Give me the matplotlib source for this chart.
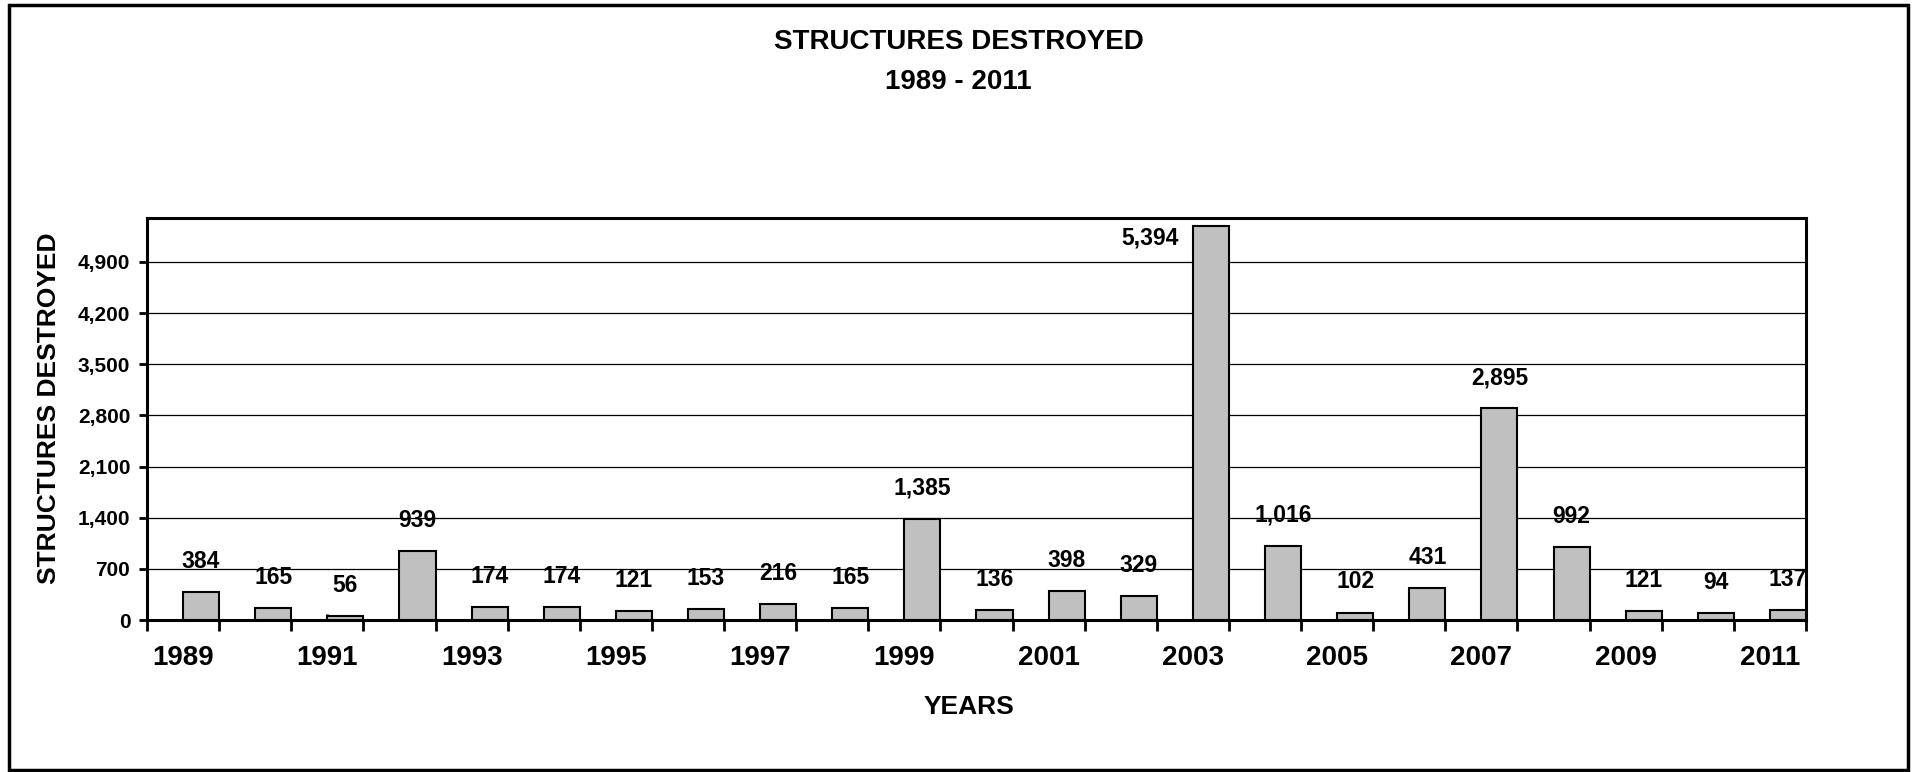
import numpy as np
import matplotlib
matplotlib.use("Agg")
import matplotlib.pyplot as plt
from matplotlib.patches import Rectangle
from matplotlib.ticker import FuncFormatter

plt.rcParams['font.family'] = ['Liberation Sans', 'DejaVu Sans']
plt.rcParams['font.weight'] = 'bold'

years = list(range(1989, 2012))
destroyed = [384, 165, 56, 939, 174, 174, 121, 153, 216, 165, 1385, 136,
             398, 329, 5394, 1016, 102, 431, 2895, 992, 121, 94, 137]
yticks = [0, 700, 1400, 2100, 2800, 3500, 4200, 4900]
ymax = 5500

fig = plt.figure(figsize=(19.17, 7.72), dpi=100)
ax = fig.add_axes([147 / 1917, 152 / 772, 1659 / 1917, 402 / 772])

x = np.arange(len(years))
ax.bar(x, destroyed, width=0.5, align='edge', color='#C0C0C0',
       edgecolor='black', linewidth=1.5, zorder=3)

ax.set_xlim(-0.5, len(years) - 0.5)
ax.set_ylim(0, ymax)
ax.set_yticks(yticks)
ax.yaxis.set_major_formatter(FuncFormatter(lambda v, p: f"{int(v):,}"))
ax.grid(axis='y', color='black', linewidth=0.9, zorder=0)

# boundaries as major ticks, centres as minor ticks carrying the labels
ax.set_xticks(np.arange(len(years) + 1) - 0.5)
ax.set_xticklabels([])
ax.set_xticks(x, minor=True)
ax.set_xticklabels([str(y) if i % 2 == 0 else '' for i, y in enumerate(years)],
                   minor=True)
ax.tick_params(axis='x', which='major', direction='out', length=8, width=2)
ax.tick_params(axis='x', which='minor', direction='in', length=4, width=2,
               pad=18, labelsize=20)
ax.tick_params(axis='y', direction='out', length=6, width=2, pad=6,
               labelsize=15)

for s in ax.spines.values():
    s.set_linewidth(2.2)

for i, v in enumerate(destroyed):
    txt = f"{v:,}"
    if v > ymax * 0.9:
        ax.annotate(txt, (i, v), xytext=(-10, -9), textcoords='offset points',
                    ha='right', va='center', fontsize=16.5, fontweight='bold')
    else:
        ax.annotate(txt, (i + 0.25, v), xytext=(0, 22), textcoords='offset points',
                    ha='center', va='center', fontsize=16.5, fontweight='bold',
                    annotation_clip=False, clip_on=True)

ax.set_xlabel('YEARS', fontsize=19, fontweight='bold')
ax.xaxis.set_label_coords(0.4955, -0.187)
ax.set_ylabel('STRUCTURES DESTROYED', fontsize=19, fontweight='bold')
ax.yaxis.set_label_coords(-0.052, 0.526)

fig.text(0.5, 1 - 42 / 772, 'STRUCTURES DESTROYED', ha='center', va='center',
         fontsize=20, fontweight='bold')
fig.text(0.5, 1 - 82 / 772, '1989 - 2011', ha='center', va='center',
         fontsize=20, fontweight='bold')

fig.patches.append(Rectangle((9 / 1917, 2 / 772), 1899 / 1917, 765 / 772,
                             transform=fig.transFigure, fill=False,
                             edgecolor='black', linewidth=2.5))

fig.savefig('out.png', dpi=100)
